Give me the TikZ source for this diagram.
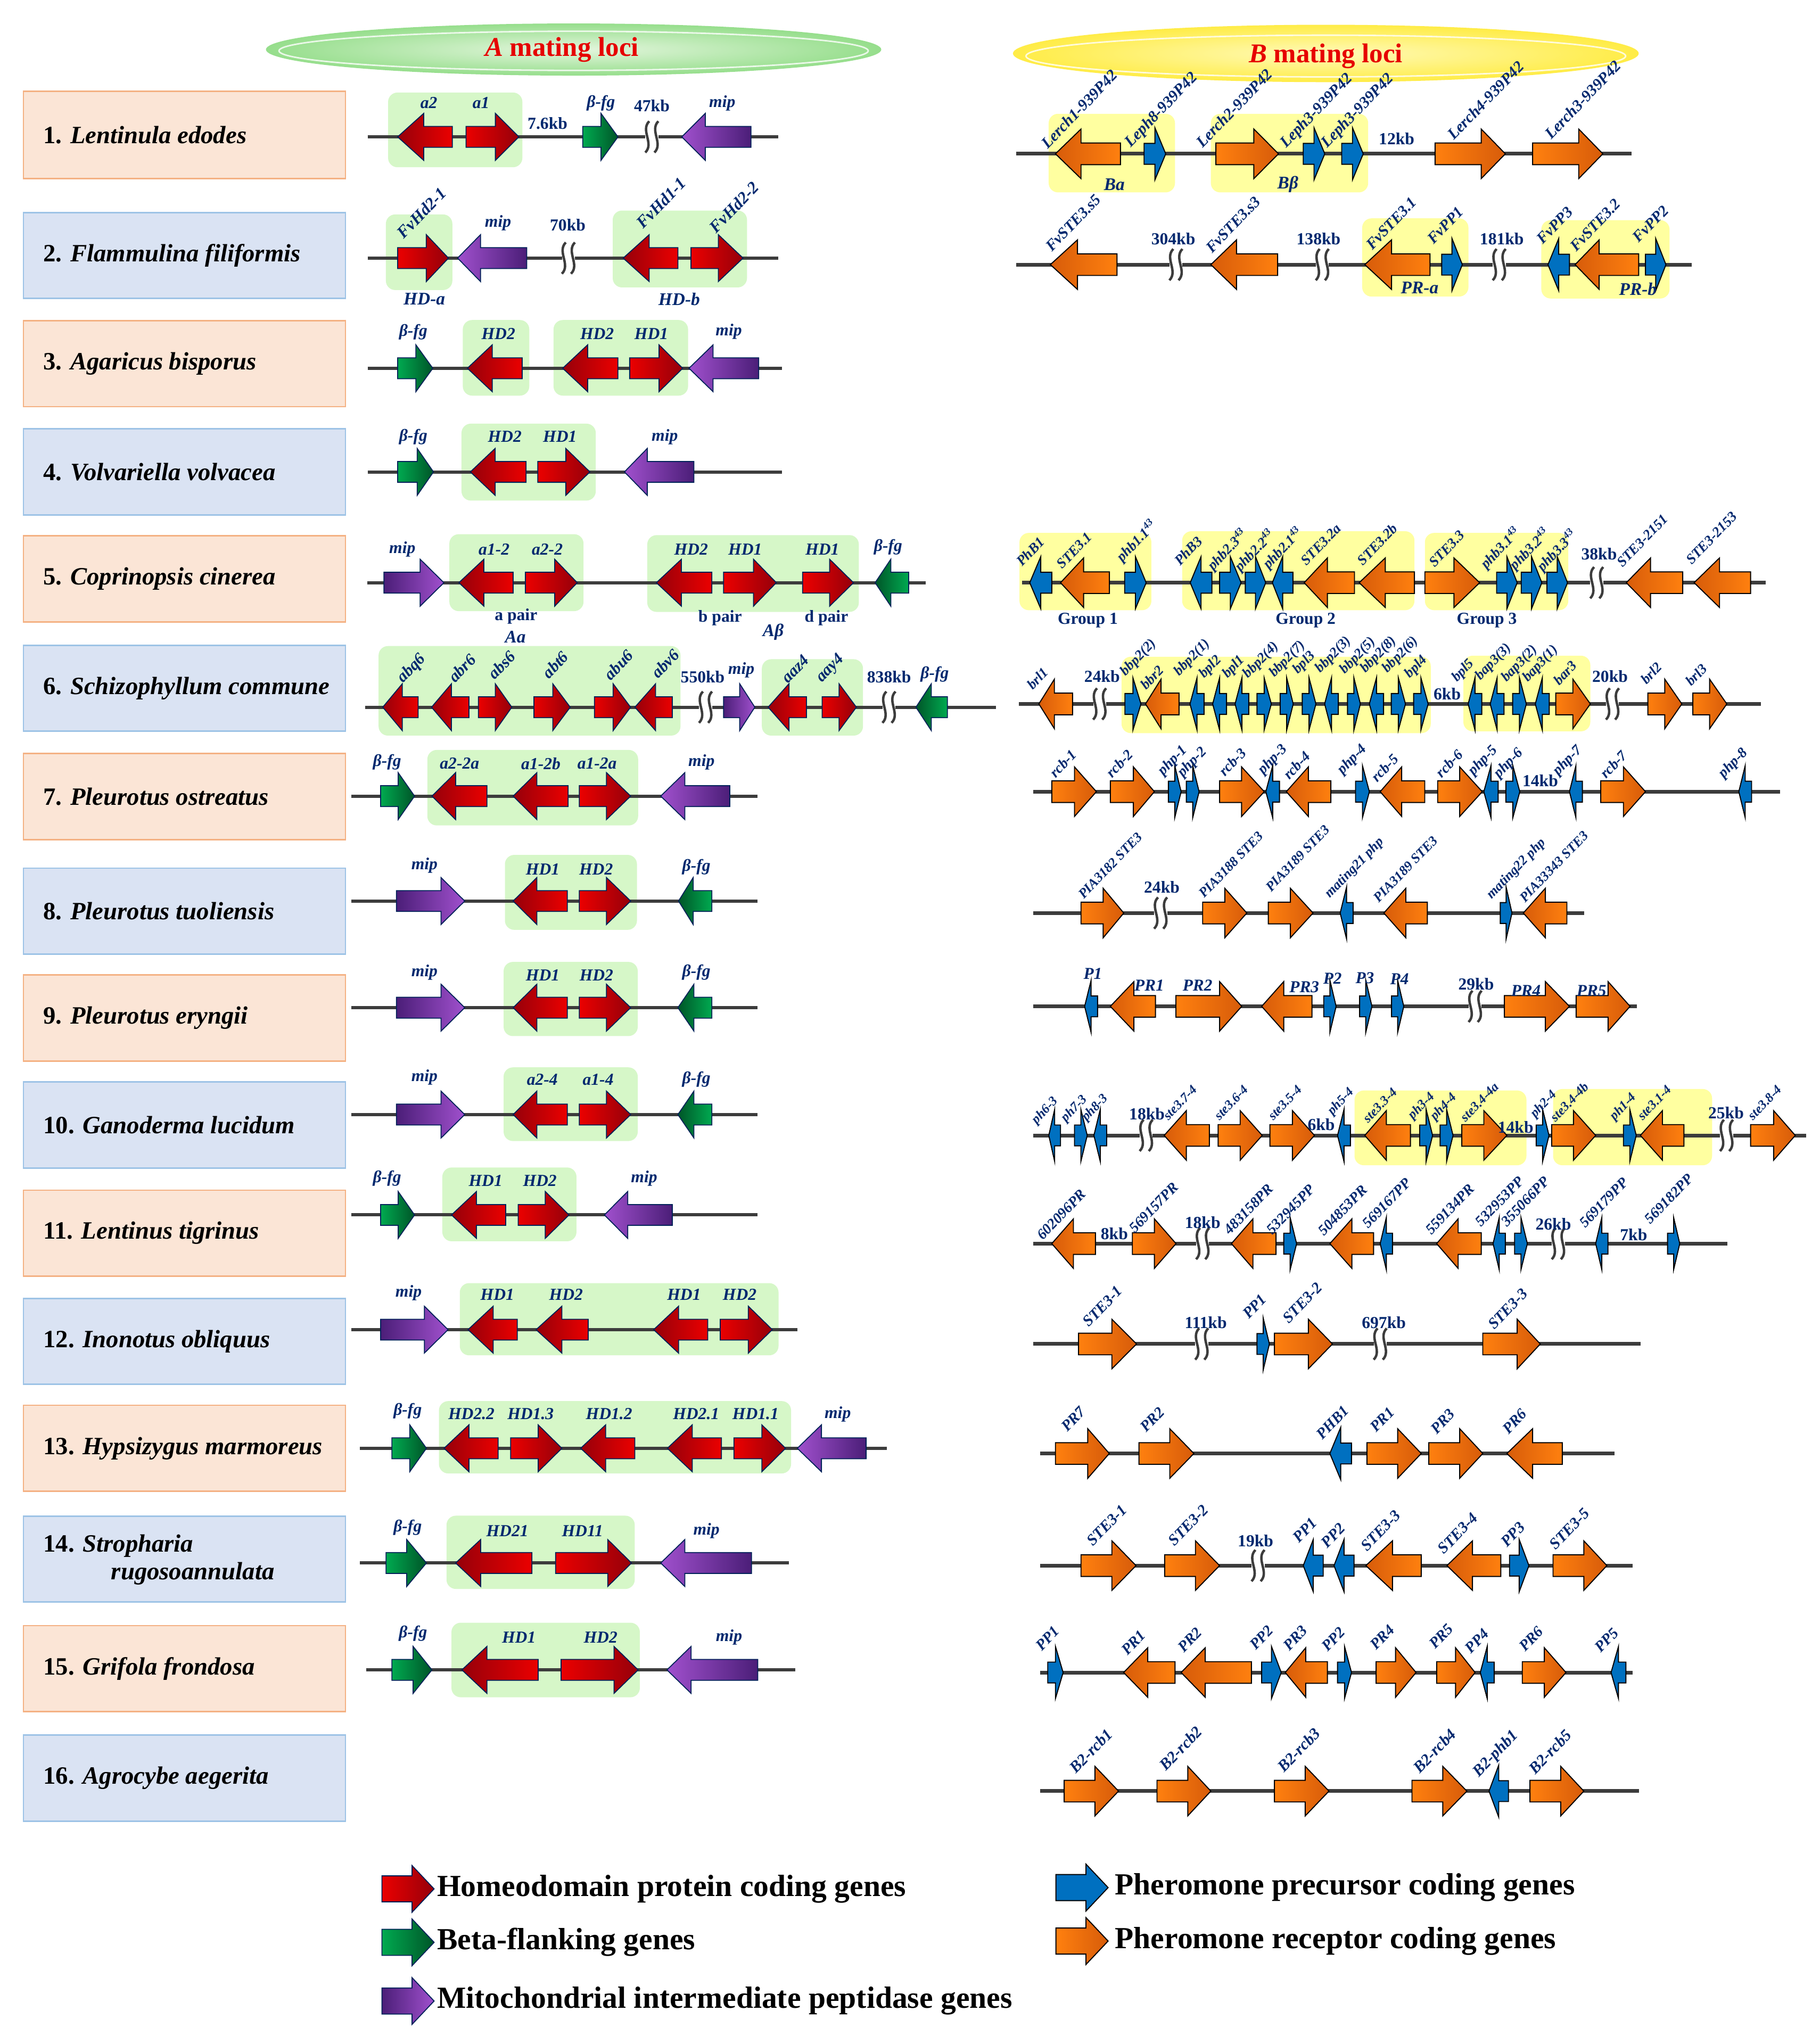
\documentclass[tikz,border=0pt]{standalone}
\usepackage{fontspec}
\setmainfont{Liberation Serif}
\definecolor{navy}{RGB}{0,40,110}
\definecolor{redT}{RGB}{235,0,0}
\definecolor{redH}{RGB}{150,0,10}
\definecolor{grnT}{RGB}{0,170,80}
\definecolor{grnH}{RGB}{0,85,40}
\definecolor{purH}{RGB}{160,80,205}
\definecolor{purT}{RGB}{75,30,120}
\definecolor{oraT}{RGB}{255,128,15}
\definecolor{oraH}{RGB}{215,92,10}
\definecolor{bluT}{RGB}{0,112,192}
\definecolor{lgreen}{RGB}{214,247,200}
\definecolor{lyellow}{RGB}{255,255,160}
\definecolor{peach}{RGB}{251,229,214}
\definecolor{peachB}{RGB}{244,177,131}
\definecolor{lblue}{RGB}{218,227,243}
\definecolor{lblueB}{RGB}{157,195,230}
\definecolor{bbline}{RGB}{60,60,60}
\definecolor{hred}{RGB}{230,0,0}
\newcommand\lbf[1]{\fontsize{#1}{#1}\selectfont\bfseries\itshape}
\tikzset{
 ga/.style={draw=navy!80!black,line width=0.5pt,line join=miter},
 gb/.style={draw=black,line width=0.55pt,line join=miter},
 rR/.style={ga,left color=redT,right color=redH},
 rL/.style={ga,left color=redH,right color=redT},
 gR/.style={ga,left color=grnT,right color=grnH},
 gL/.style={ga,left color=grnH,right color=grnT},
 mR/.style={ga,left color=purT,right color=purH},
 mL/.style={ga,left color=purH,right color=purT},
 oR/.style={gb,left color=oraT,right color=oraH},
 oL/.style={gb,left color=oraH,right color=oraT},
 bR/.style={gb,fill=bluT},
 bL/.style={gb,fill=bluT},
 bbA/.style={line width=1.7pt,draw=bbline},
 bbB/.style={line width=2.0pt,draw=bbline},
 hlA/.style={fill=lgreen,rounded corners=5pt},
 hlB/.style={fill=lyellow,rounded corners=5pt},
 lab/.style={text=navy,inner sep=0,font=\lbf{#1}},
 rl/.style={text=navy,inner sep=0,rotate=46,anchor=base west,font=\lbf{#1}},
 kbs/.style={text=navy,inner sep=0,font=\fontsize{9}{9}\selectfont\bfseries},
 peachb/.style={fill=peach,draw=peachB,line width=0.8pt},
 blueb/.style={fill=lblue,draw=lblueB,line width=0.8pt},
 spn/.style={inner sep=0,anchor=west,font=\fontsize{13.3}{15}\selectfont\bfseries},
 brkline/.style={draw=bbline,line width=1.3pt},
 legt/.style={inner sep=0,anchor=west,font=\fontsize{16.4}{17}\selectfont\bfseries}
}
% tail, base, tip, y, style, head half, body half
\newcommand\gene[7]{\draw[#5] (#1,#4-#7) -- (#2,#4-#7) -- (#2,#4-#6) -- (#3,#4) -- (#2,#4+#6) -- (#2,#4+#7) -- (#1,#4+#7) -- cycle;}
\newcommand\gA[5]{\gene{#1}{#2}{#3}{#4}{#5}{18}{8}}
\newcommand\gB[5]{\gene{#1}{#2}{#3}{#4}{#5}{19}{8.3}}
\newcommand\gP[4]{\pgfmathsetmacro\xbase{(#1+#2)/2}\gene{#1}{\xbase}{#2}{#3}{#4}{20}{8}}
\newcommand\brk[2]{\fill[white] (#1-5,#2-2.6) rectangle (#1+5,#2+2.6);
 \draw[brkline] (#1-2,#2-12) .. controls (#1-9,#2-5) and (#1+2,#2+5) .. (#1-5,#2+12);
 \draw[brkline] (#1+5,#2-12) .. controls (#1-2,#2-5) and (#1+9,#2+5) .. (#1+2,#2+12);}
\newcommand\alab[3]{\node[lab=9] at (#1,#2) {#3};}
\newcommand\kblab[3]{\node[kbs] at (#1,#2) {#3};}
\newcommand\rla[4]{\node[rl=#1] at (#2,#3) {#4};}
\newcommand\spbox[4]{\draw[#1] (18,#2) rectangle (265,#3); \node[spn] at (33,{(#2+#3)/2}) {#4};}
\begin{document}
\begin{tikzpicture}[x=0.024484cm,y=-0.024484cm]
\useasboundingbox (0,0) rectangle (1396,1568);
\fill[white] (0,0) rectangle (1396,1568);
% headers
\shade[inner color={rgb,255:red,228;green,246;blue,222},outer color={rgb,255:red,150;green,222;blue,140}] (440,38) ellipse [x radius=236, y radius=20];
\draw[white,line width=0.8pt,opacity=0.8] (440,39) ellipse [x radius=226, y radius=15];
\node[text=hred,inner sep=0,font=\fontsize{14.5}{15}\selectfont\bfseries] at (431,38) {\textit{A} mating loci};
\shade[inner color={rgb,255:red,255;green,250;blue,185},outer color={rgb,255:red,255;green,236;blue,70}] (1017,41) ellipse [x radius=240, y radius=22];
\draw[white,line width=0.8pt,opacity=0.8] (1017,43) ellipse [x radius=230, y radius=16];
\node[text=hred,inner sep=0,font=\fontsize{14.5}{15}\selectfont\bfseries] at (1017,43) {\textit{B} mating loci};
% species boxes
\spbox{peachb}{70}{137}{1. \textit{Lentinula edodes}}
\spbox{blueb}{163}{229}{2. \textit{Flammulina filiformis}}
\spbox{peachb}{246}{312}{3. \textit{Agaricus bisporus}}
\spbox{blueb}{329}{395}{4. \textit{Volvariella volvacea}}
\spbox{peachb}{411}{477}{5. \textit{Coprinopsis cinerea}}
\spbox{blueb}{495}{561}{6. \textit{Schizophyllum commune}}
\spbox{peachb}{578}{644}{7. \textit{Pleurotus ostreatus}}
\spbox{blueb}{666}{732}{8. \textit{Pleurotus tuoliensis}}
\spbox{peachb}{748}{814}{9. \textit{Pleurotus eryngii}}
\spbox{blueb}{830}{896}{10. \textit{Ganoderma lucidum}}
\spbox{peachb}{913}{979}{11. \textit{Lentinus tigrinus}}
\spbox{blueb}{996}{1062}{12. \textit{Inonotus obliquus}}
\spbox{peachb}{1078}{1144}{13. \textit{Hypsizygus marmoreus}}
\draw[blueb] (18,1163) rectangle (265,1229);
\node[spn] at (33,1186) {14. \textit{Stropharia}};
\node[spn] at (85,1207) {\textit{rugosoannulata}};
\spbox{peachb}{1247}{1313}{15. \textit{Grifola frondosa}}
\spbox{blueb}{1331}{1397}{16. \textit{Agrocybe aegerita}}

% ================= A side =================
% Row 1
\fill[hlA] (297.7,71) rectangle (400.7,128.3);
\draw[bbA] (282,105) -- (597,105);
\brk{500}{105}
\gA{347}{325}{305}{105}{rL}
\gA{357.5}{380}{398}{105}{rR}
\gA{447}{461}{474}{105}{gR}
\gA{576}{541}{523}{105}{mL}
\alab{329}{79}{a2}\alab{369}{79}{a1}\alab{461}{79}{β-fg}\alab{554}{79}{mip}
\kblab{420}{94.5}{7.6kb}\kblab{500}{81}{47kb}
% Row 2
\fill[hlA] (296,164.5) rectangle (347,222.5);
\fill[hlA] (470,161.5) rectangle (573,220.5);
\draw[bbA] (282,198) -- (597,198);
\brk{436}{198}
\gA{305}{327}{344}{198}{rR}
\gA{404}{368.6}{351}{198}{mL}
\gA{520}{498}{478}{198}{rL}
\gA{530}{551}{570}{198}{rR}
\rla{9}{309.6}{183.9}{FvHd2-1}
\rla{9}{493.3}{176.2}{FvHd1-1}
\rla{9}{549.3}{179.5}{FvHd2-2}
\alab{382}{171}{mip}
\kblab{435.5}{172.5}{70kb}
\node[lab=9.5] at (325.5,229.5) {HD-a};
\node[lab=9.5] at (521,229.5) {HD-b};
% Row 3
\fill[hlA] (355,245.5) rectangle (406,303.5);
\fill[hlA] (424.6,245.5) rectangle (527.8,303.5);
\draw[bbA] (282,282.5) -- (600,282.5);
\gA{305}{319}{332}{282.5}{gR}
\gA{400.6}{377.6}{358.5}{282.5}{rL}
\gA{474}{450.8}{431.6}{282.5}{rL}
\gA{483}{505.5}{523.7}{282.5}{rR}
\gA{582}{547}{528.5}{282.5}{mL}
\alab{317}{254.5}{β-fg}\alab{382.3}{256}{HD2}\alab{458}{256}{HD2}\alab{499.6}{256}{HD1}\alab{559}{254.5}{mip}
% Row 4
\fill[hlA] (354,325) rectangle (457,384);
\draw[bbA] (282,362) -- (600,362);
\gA{305}{320}{332.5}{362}{gR}
\gA{403.5}{379.8}{360.8}{362}{rL}
\gA{412.5}{434}{452.5}{362}{rR}
\gA{532.3}{496.5}{479}{362}{mL}
\alab{317}{335}{β-fg}\alab{387.2}{335}{HD2}\alab{429.5}{335}{HD1}\alab{509.9}{335}{mip}
% Row 5
\fill[hlA] (344.7,409.8) rectangle (447.6,468.8);
\fill[hlA] (496.5,410.5) rectangle (658.8,469.4);
\draw[bbA] (281.7,447) -- (710,447);
\gA{294.5}{322.3}{340.5}{447}{mR}
\gA{393.6}{371.2}{352}{447}{rL}
\gA{403}{425.5}{442.8}{447}{rR}
\gA{546}{522.7}{503.5}{447}{rL}
\gA{555}{578}{595.5}{447}{rR}
\gA{615.7}{636.4}{654.7}{447}{rR}
\gA{697}{683.3}{671.3}{447}{gL}
\alab{308.6}{421.4}{mip}\alab{379}{421.4}{a1-2}\alab{419.8}{421.4}{a2-2}
\alab{530.1}{421.4}{HD2}\alab{571.6}{421.4}{HD1}\alab{630.8}{421.4}{HD1}\alab{681.3}{419.5}{β-fg}
\kblab{395.8}{473}{a pair}\kblab{552.4}{474}{b pair}\kblab{633.9}{474}{d pair}
\node[lab=9.5] at (395.3,488.8) {Aa};
\node[lab=9.5] at (593.1,484.7) {Aβ};
% Row 6
\fill[hlA] (290.4,495.6) rectangle (522,564.3);
\fill[hlA] (584.4,505.7) rectangle (662,564.3);
\draw[bbA] (280,542.5) -- (764,542.5);
\brk{541.2}{542.5}\brk{681.9}{542.5}
\gA{320.7}{308.6}{293.6}{542.5}{rL}
\gA{359.7}{346.3}{331}{542.5}{rL}
\gA{367}{379.9}{392.6}{542.5}{rR}
\gA{409.6}{424}{437.4}{542.5}{rR}
\gA{456}{470.3}{483.7}{542.5}{rR}
\gA{515.7}{502.9}{487}{542.5}{rL}
\gA{555}{567.4}{579}{542.5}{mR}
\gA{618.6}{605.2}{589.2}{542.5}{rL}
\gA{630.7}{643.6}{656.9}{542.5}{rR}
\gA{726.7}{714.4}{702.6}{542.5}{gL}
\foreach \xx/\yy/\tt in {316/513/abq6,354.4/512.5/abr6,384.9/510/abs6,425.9/510/abt6,474.5/510/abu6,510.3/509/abv6,609.9/513/aaz4,637/513/aay4}
  {\node[lab=8.8,rotate=46] at (\xx,\yy) {\tt};}
\alab{568.6}{514.1}{mip}\alab{717}{517.3}{β-fg}
\kblab{539}{519.4}{550kb}\kblab{682}{519.4}{838kb}
% Row 7
\fill[hlA] (327.8,575.3) rectangle (489.5,633.2);
\draw[bbA] (269.6,610.7) -- (581,610.7);
\gA{292}{305.4}{318}{610.7}{gR}
\gA{373.5}{349.5}{331.3}{610.7}{rL}
\gA{435.8}{411.8}{393.6}{610.7}{rL}
\gA{444.4}{465.2}{483.8}{610.7}{rR}
\gA{559.8}{525.3}{506.8}{610.7}{mL}
\alab{296.9}{584.8}{β-fg}\alab{352.5}{585.8}{a2-2a}\alab{414.9}{585.8}{a1-2b}\alab{458}{585.8}{a1-2a}\alab{538.1}{584.8}{mip}
% Row 8
\fill[hlA] (387.3,655.8) rectangle (488.6,713.3);
\draw[bbA] (269.6,691.2) -- (581,691.2);
\gA{304.1}{338.3}{356.5}{691.2}{mR}
\gA{435.2}{411.8}{393.6}{691.2}{rL}
\gA{444.4}{465.2}{483.8}{691.2}{rR}
\gA{546}{531.7}{520.5}{691.2}{gL}
\alab{325.6}{663.8}{mip}\alab{416.3}{667}{HD1}\alab{457.2}{667}{HD2}\alab{534.2}{665}{β-fg}
% Row 9
\fill[hlA] (386.3,737.9) rectangle (489.2,794.8);
\draw[bbA] (269.6,773) -- (581,773);
\gA{304.1}{338.3}{356.5}{773}{mR}
\gA{435.2}{411.8}{393.6}{773}{rL}
\gA{444.4}{465.2}{483.8}{773}{rR}
\gA{546}{532.3}{520}{773}{gL}
\alab{325.6}{746}{mip}\alab{416.3}{748}{HD1}\alab{457.5}{748}{HD2}\alab{534.2}{746}{β-fg}
% Row 10
\fill[hlA] (386.3,818.8) rectangle (489.2,875.3);
\draw[bbA] (269.6,855) -- (581,855);
\gA{304.1}{338.3}{356.5}{855}{mR}
\gA{435.2}{411.8}{393.6}{855}{rL}
\gA{444.4}{465.2}{483.8}{855}{rR}
\gA{546}{532.3}{520}{855}{gL}
\alab{325.6}{826.5}{mip}\alab{416}{828}{a2-4}\alab{458.8}{828}{a1-4}\alab{534.2}{828}{β-fg}
% Row 11
\fill[hlA] (339.3,895.6) rectangle (442.2,952.2);
\draw[bbA] (269.6,932) -- (581,932);
\gA{292}{305.4}{318}{932}{gR}
\gA{387.9}{365.5}{346.3}{932}{rL}
\gA{397.5}{418.2}{436.5}{932}{rR}
\gA{515.7}{481.5}{463.6}{932}{mL}
\alab{296.9}{904.1}{β-fg}\alab{372.5}{905.6}{HD1}\alab{414.1}{905.6}{HD2}\alab{494.1}{904.1}{mip}
% Row 12
\fill[hlA] (352.7,984.3) rectangle (597.2,1039.7);
\draw[bbA] (269.6,1020) -- (611.5,1020);
\gA{292}{325.5}{343.7}{1020}{mR}
\gA{396.8}{378.3}{359}{1020}{rL}
\gA{451.2}{431}{411.2}{1020}{rL}
\gA{542.9}{520.5}{501.4}{1020}{rL}
\gA{552.5}{574}{592.4}{1020}{rR}
\alab{313.4}{991.7}{mip}\alab{381.5}{993}{HD1}\alab{434.2}{993}{HD2}\alab{524.7}{993}{HD1}\alab{567.4}{993}{HD2}
% Row 13
\fill[hlA] (336.7,1074.8) rectangle (606.8,1130.3);
\draw[bbA] (276,1111) -- (680.4,1111);
\gA{300.6}{314.3}{327.1}{1111}{gR}
\gA{382.1}{359.7}{340.6}{1111}{rL}
\gA{391.7}{412.8}{431}{1111}{rR}
\gA{486.9}{464.6}{445.4}{1111}{rL}
\gA{553.4}{531}{511.9}{1111}{rL}
\gA{563}{584.4}{602.6}{1111}{rR}
\gA{664.4}{630.1}{611.6}{1111}{mL}
\alab{312.7}{1082.2}{β-fg}\alab{361.6}{1084.8}{HD2.2}\alab{407}{1084.8}{HD1.3}\alab{467.2}{1084.8}{HD1.2}
\alab{534}{1084.8}{HD2.1}\alab{579.6}{1084.8}{HD1.1}\alab{642.6}{1084.8}{mip}
% Row 14
\fill[hlA] (342.5,1162.7) rectangle (486.9,1218.9);
\draw[bbA] (276,1199) -- (605.2,1199);
\gA{296.1}{312}{327.1}{1199}{gR}
\gA{408}{368.7}{349.5}{1199}{rL}
\gA{426.2}{466.2}{484.4}{1199}{rR}
\gA{576.5}{525.3}{506.8}{1199}{mL}
\alab{312.7}{1171.8}{β-fg}\alab{389.2}{1174.4}{HD21}\alab{446.8}{1174.4}{HD11}\alab{541.9}{1174.4}{mip}
% Row 15
\fill[hlA] (346.3,1244.8) rectangle (490.8,1302);
\draw[bbA] (280.8,1281) -- (610,1281);
\gA{300.6}{316.9}{331.3}{1281}{gR}
\gA{412.8}{373.5}{354.3}{1281}{rL}
\gA{430.4}{471}{489.5}{1281}{rR}
\gA{581.3}{530.1}{511.6}{1281}{mL}
\alab{316.8}{1253}{β-fg}\alab{398}{1256}{HD1}\alab{460.7}{1256}{HD2}\alab{559.2}{1256}{mip}

% ================= B side =================
% Row 1
\fill[hlB] (804.4,87.3) rectangle (901.3,147.6);
\fill[hlB] (928.8,87.3) rectangle (1049.5,147.6);
\draw[bbB] (779.3,118) -- (1251.4,118);
\gB{859.5}{829.2}{809.6}{118}{oL}
\gP{877.6}{894.2}{118}{bR}
\gB{932.7}{961.8}{980.7}{118}{oR}
\gP{999.7}{1016.2}{118}{bR}
\gP{1029.2}{1045.7}{118}{bR}
\gB{1100.8}{1136.2}{1154.7}{118}{oR}
\gB{1175.6}{1211}{1229.5}{118}{oR}
\rla{8.5}{803.7}{114.7}{Lerch1-939P42}
\rla{8.5}{867.4}{113.4}{Leph8-939P42}
\rla{8.5}{922.5}{114}{Lerch2-939P42}
\rla{8.5}{986.6}{114}{Leph3-939P42}
\rla{8.5}{1018}{114}{Leph3-939P42}
\rla{8.5}{1115.3}{108}{Lerch4-939P42}
\rla{8.5}{1189.9}{107.5}{Lerch3-939P42}
\kblab{1071.3}{106.5}{12kb}
\node[lab=9.5] at (854.8,141.5) {Ba};
\node[lab=9.5] at (987.9,141.5) {Bβ};
% Row 2
\fill[hlB] (1044.9,167.5) rectangle (1126.4,227.5);
\fill[hlB] (1182.3,168.9) rectangle (1280.7,229);
\draw[bbB] (779.3,203) -- (1297.6,203);
\brk{902}{203}\brk{1014.3}{203}\brk{1150}{203}
\gB{856.8}{826.5}{805.7}{203}{oL}
\gB{980}{948.5}{928.8}{203}{oL}
\gB{1096.9}{1067.4}{1046.9}{203}{oL}
\gP{1105.9}{1121.7}{203}{bR}
\gP{1203.9}{1187.4}{203}{bL}
\gB{1257}{1226.7}{1208.2}{203}{oL}
\gP{1262.2}{1277.9}{203}{bR}
\rla{8.3}{806.8}{193.5}{FvSTE3.s5}
\rla{8.3}{929.6}{194.9}{FvSTE3.s3}
\rla{8.3}{1052.5}{192.2}{FvSTE3.1}
\rla{8.3}{1099.6}{188}{FvPP1}
\rla{8.3}{1183.5}{188}{FvPP3}
\rla{8.3}{1208.9}{193.5}{FvSTE3.2}
\rla{8.3}{1257}{186.8}{FvPP2}
\kblab{900}{183.3}{304kb}\kblab{1011.4}{183.3}{138kb}\kblab{1152}{183.3}{181kb}
\node[lab=9.5] at (1089,220.7) {PR-a};
\node[lab=9.5] at (1256.4,221.7) {PR-b};
% Row 5
\fill[hlB] (782,408.8) rectangle (883.2,468.1);
\fill[hlB] (906.8,407.5) rectangle (1085,468.1);
\fill[hlB] (1093,408.8) rectangle (1203,468.1);
\draw[bbB] (784,447) -- (1354.5,447);
\brk{1224.8}{447}
\gP{806.8}{789.9}{447}{bL}
\gB{851}{831.2}{813.5}{447}{oL}
\gP{862.7}{879.2}{447}{bR}
\gP{929.6}{913}{447}{bL}
\gP{935.5}{952}{447}{bR}
\gP{955.2}{970.9}{447}{bR}
\gP{991.8}{976}{447}{bL}
\gB{1039}{1018.2}{1000.4}{447}{oL}
\gB{1085}{1062.6}{1042.6}{447}{oL}
\gB{1093}{1115.3}{1135}{447}{oR}
\gP{1148}{1163.8}{447}{bR}
\gP{1166.9}{1182.7}{447}{bR}
\gP{1186.6}{1202.4}{447}{bR}
\gB{1290.8}{1266.1}{1247.5}{447}{oL}
\gB{1342.8}{1319}{1299.5}{447}{oL}
\rla{7.6}{784}{435}{PhB1}
\rla{7.6}{814.7}{437}{STE3.1}
\rla{7.6}{860.8}{431.6}{phb1.1\textsuperscript{43}}
\rla{7.6}{905.2}{434.4}{PhB3}
\rla{7.6}{930.4}{438.2}{phb2.3\textsuperscript{43}}
\rla{7.6}{951.3}{438.9}{phb2.2\textsuperscript{43}}
\rla{7.6}{972.9}{437}{phb2.1\textsuperscript{43}}
\rla{7.6}{1002.1}{434.4}{STE3.2a}
\rla{7.6}{1045.4}{434.4}{STE3.2b}
\rla{7.6}{1100.5}{435.7}{STE3.3}
\rla{7.6}{1139.9}{437}{phb3.1\textsuperscript{43}}
\rla{7.6}{1162.3}{437.7}{phb3.2\textsuperscript{43}}
\rla{7.6}{1183.2}{438.9}{phb3.3\textsuperscript{43}}
\rla{7.6}{1244.4}{435.7}{STE3-2151}
\rla{7.6}{1297.5}{433.7}{STE3-2153}
\kblab{1226.6}{424.8}{38kb}
\kblab{834.4}{475.9}{Group 1}\kblab{1001.5}{475.9}{Group 2}\kblab{1140.5}{475.9}{Group 3}
% Row 6
\fill[hlB] (860.3,503.8) rectangle (1097.5,562.4);
\fill[hlB] (1122.5,503) rectangle (1219.9,561);
\draw[bbB] (781.7,540) -- (1350.9,540);
\brk{843.5}{540}\brk{1236.9}{540}
\gB{822.7}{808.8}{796.9}{540}{oL}
\gP{862.9}{875.2}{540}{bR}
\gB{904.4}{890.6}{878.7}{540}{oL}
\gP{923.6}{912.8}{540}{bL}
\gP{940.8}{930.2}{540}{bL}
\gP{957.9}{947.4}{540}{bL}
\gP{964.2}{975.2}{540}{bR}
\gP{982}{992}{540}{bR}
\gP{998.9}{1009.4}{540}{bR}
\gP{1026.6}{1016.1}{540}{bL}
\gP{1033.6}{1043.5}{540}{bR}
\gP{1061.3}{1050.4}{540}{bL}
\gP{1067.2}{1078.1}{540}{bR}
\gP{1084.4}{1095.5}{540}{bR}
\gP{1136.6}{1126.2}{540}{bL}
\gP{1153.7}{1143.1}{540}{bL}
\gP{1160.3}{1170.8}{540}{bR}
\gP{1188.4}{1177.7}{540}{bL}
\gB{1193.4}{1206.5}{1219.9}{540}{oR}
\gB{1264}{1277}{1290.1}{540}{oR}
\gB{1298.5}{1311.4}{1324.6}{540}{oR}
\foreach \xx/\yy/\tt in {792/529.7/brl1,863.3/518.8/bbp2(2),879.1/529.7/bbr2,904.5/518.8/bbp2(1),923.7/520.8/bpl2,941.5/520.8/bpl1,957.3/520.8/bbp2(4),977.5/520/bbp2(7),995.6/517.4/bpl3,1012.8/516.7/bbp2(3),1031.6/517.4/bbp2(5),1047.4/516.7/bbp2(8),1064.2/516.7/bbp2(6),1081.4/520.8/bpl4,1117.5/523.5/bpl5,1135.6/522.2/bap3(3),1155.6/523.5/bap3(2),1171.7/523.5/bap3(1),1195.8/526.2/bar3,1262.9/525.6/brl2,1297.4/526.9/brl3}
  {\node[rl=7.5] at (\xx,\yy) {\tt};}
\kblab{845.4}{518.8}{24kb}\kblab{1110.1}{532.4}{6kb}\kblab{1235}{518.8}{20kb}
% Row 7
\draw[bbB] (792.7,607.3) -- (1365.3,607.3);
\gB{806.8}{824.2}{841}{607.3}{oR}
\gB{851.7}{869.4}{885.5}{607.3}{oR}
\gP{896.2}{906}{607.3}{bR}
\gP{910}{919.8}{607.3}{bR}
\gB{935.5}{952.4}{969.8}{607.3}{oR}
\gP{981.5}{971}{607.3}{bL}
\gB{1020.9}{1003.6}{986.7}{607.3}{oL}
\gP{1039.8}{1050.4}{607.3}{bR}
\gB{1092.9}{1075.2}{1058.7}{607.3}{oL}
\gB{1102.8}{1119.7}{1137}{607.3}{oR}
\gP{1149.2}{1138.2}{607.3}{bL}
\gP{1155.1}{1165.8}{607.3}{bR}
\gP{1213.8}{1203.9}{607.3}{bL}
\gB{1227.9}{1245.3}{1262.2}{607.3}{oR}
\gP{1343.6}{1333.8}{607.3}{bL}
\foreach \xx/\yy/\tt in {809.6/597.3/rcb-1,852.9/597.3/rcb-2,892.3/595.3/php-1,907.2/596.6/php-2,939.5/596/rcb-3,969/594.6/php-3,988.8/598.7/rcb-4,1029.9/594.6/php-4,1056.3/600.7/rcb-5,1105.8/597.3/rcb-6,1130.3/595.3/php-5,1150/597.3/php-6,1195.2/595.3/php-7,1231.8/598/rcb-7,1322.3/597.3/php-8}
  {\node[rl=7.8] at (\xx,\yy) {\tt};}
\kblab{1181.5}{598.7}{14kb}
% Row 8
\draw[bbB] (792.7,700.4) -- (1215,700.4);
\brk{890.3}{700.4}
\gB{829.2}{846.2}{862}{700.4}{oR}
\gB{922.5}{939.5}{956.4}{700.4}{oR}
\gB{972.9}{989.8}{1007.2}{700.4}{oR}
\gP{1037.9}{1028}{700.4}{bL}
\gB{1094.9}{1078.4}{1061.5}{700.4}{oL}
\gP{1150.8}{1159.8}{700.4}{bR}
\gB{1201.9}{1185.4}{1168.5}{700.4}{oL}
\rla{7.3}{831.2}{690.1}{PIA3182 STE3}
\rla{7.3}{923.7}{689.4}{PIA3188 STE3}
\rla{7.3}{974.9}{684.6}{PIA3189 STE3}
\rla{7.3}{1020.1}{689.4}{mating21 php}
\rla{7.3}{1057.6}{692.8}{PIA3189 STE3}
\rla{7.3}{1144.1}{690.1}{mating22 php}
\rla{7.3}{1169.7}{692.8}{PIA33343 STE3}
\kblab{891.2}{680.4}{24kb}
% Row 9
\draw[bbB] (792.7,772) -- (1255.5,772);
\brk{1131.5}{772}
\gP{841.9}{832}{772}{bL}
\gB{886.3}{869.8}{851.7}{772}{oL}
\gB{902}{935.5}{952.5}{772}{oR}
\gB{1006.4}{984.7}{967.8}{772}{oL}
\gP{1015.4}{1024.9}{772}{bR}
\gP{1042.9}{1052.4}{772}{bR}
\gP{1067.4}{1076.8}{772}{bR}
\gB{1154}{1185.4}{1203.9}{772}{oR}
\gB{1209}{1233.5}{1250.4}{772}{oR}
\foreach \xx/\yy/\tt in {838.3/746.9/P1,881.6/755.8/PR1,918.6/755.8/PR2,1000.5/757.2/PR3,1022.1/750.4/P2,1046.9/750.4/P3,1073.5/751/P4,1170.5/759.9/PR4,1220.8/759.9/PR5}
  {\node[lab=8.9] at (\xx,\yy) {\tt};}
\kblab{1132.3}{755}{29kb}
% Row 10
\fill[hlB] (1039,836.5) rectangle (1170.9,893.9);
\fill[hlB] (1191.3,835.4) rectangle (1313.3,893.9);
\draw[bbB] (792.7,871) -- (1385.3,871);
\brk{879.2}{871}\brk{1324.4}{871}
\gP{813.5}{804.5}{871}{bL}
\gP{824.2}{834}{871}{bR}
\gP{848.9}{839.1}{871}{bL}
\gB{927.7}{910}{893}{871}{oL}
\gB{934.4}{951.3}{968.2}{871}{oR}
\gB{974.1}{991.4}{1008.3}{871}{oR}
\gP{1035.9}{1026}{871}{bL}
\gB{1081.9}{1063.4}{1046.9}{871}{oL}
\gP{1089}{1098.9}{871}{bR}
\gP{1104.7}{1114.6}{871}{bR}
\gB{1121.3}{1138.2}{1155.9}{871}{oR}
\gP{1178.4}{1188.2}{871}{bR}
\gB{1190.2}{1207}{1224}{871}{oR}
\gP{1245.3}{1255.1}{871}{bR}
\gB{1291.7}{1275.2}{1258.3}{871}{oL}
\gB{1342.8}{1360.5}{1377.1}{871}{oR}
\foreach \xx/\yy/\tt in {795.1/862.6/ph6-3,817.5/861.2/ph7-3,833.2/860.5/ph8-3,896.2/859.9/ste3.7-4,935.5/859.9/ste3.6-4,976.7/859.9/ste3.5-4,1022/855.8/ph5-4,1049.6/861.9/ste3.3-4,1083.8/859.2/ph3-4,1100.7/859.9/ph4-4,1124.3/861.2/ste3.4-4a,1177.5/857.8/ph2-4,1193.3/861.2/ste3.4-4b,1238.5/859.9/ph1-4,1260.1/859.9/ste3.1-4,1344.8/859.9/ste3.8-4}
  {\node[rl=7] at (\xx,\yy) {\tt};}
\kblab{879.8}{854.4}{18kb}\kblab{1013.5}{862.6}{6kb}\kblab{1162.6}{864.7}{14kb}\kblab{1324}{853.8}{25kb}
% Row 11
\draw[bbB] (792.7,954) -- (1325.1,954);
\brk{922.5}{954}\brk{1195.3}{954}
\gB{840.3}{823.4}{806.8}{954}{oL}
\gB{868.6}{885.5}{902.1}{954}{oR}
\gB{978.8}{961.1}{944.6}{954}{oL}
\gP{984.7}{994.6}{954}{bR}
\gB{1053.6}{1037}{1020.1}{954}{oL}
\gP{1068.1}{1058.7}{954}{bL}
\gB{1136.2}{1118.5}{1102}{954}{oL}
\gP{1154.7}{1145.3}{954}{bL}
\gP{1161.8}{1171.6}{954}{bR}
\gP{1233.4}{1224}{954}{bL}
\gP{1279.1}{1288.5}{954}{bR}
\foreach \xx/\yy/\tt in {799.8/951.8/602096PR,870.6/946.4/569157PR,943.4/947.7/483158PR,975.8/947.7/532945PP,1015.5/948.4/504853PR,1049.6/943/569167PP,1097.8/947.7/559134PR,1136/941.6/532953PP,1155.8/941.6/355066PP,1216/942.3/569179PP,1266/939.6/569182PP}
  {\node[rl=7.9] at (\xx,\yy) {\tt};}
\kblab{854.8}{946.4}{8kb}\kblab{922.5}{937.9}{18kb}\kblab{1191.5}{938.9}{26kb}\kblab{1253.1}{947}{7kb}
% Row 12
\draw[bbB] (792.7,1031) -- (1258.3,1031);
\brk{921.8}{1031}\brk{1058.7}{1031}
\gB{827.3}{852.9}{871.8}{1031}{oR}
\gP{964.2}{973.7}{1031}{bR}
\gB{977.6}{1003.6}{1022.1}{1031}{oR}
\gB{1137.4}{1163.8}{1181.5}{1031}{oR}
\rla{8.3}{835.2}{1018.5}{STE3-1}
\rla{8.3}{957.8}{1012.4}{PP1}
\rla{8.3}{988.6}{1015.8}{STE3-2}
\rla{8.3}{1146.1}{1020.6}{STE3-3}
\kblab{924.9}{1014.4}{111kb}\kblab{1061.5}{1014.4}{697kb}
% Row 13
\draw[bbB] (797.8,1115) -- (1238.6,1115);
\gB{809.6}{834.4}{850.9}{1115}{oR}
\gB{873.7}{897.3}{915.8}{1115}{oR}
\gP{1036.7}{1020.1}{1115}{bL}
\gB{1048.5}{1072.1}{1090.2}{1115}{oR}
\gB{1096}{1119.7}{1137.4}{1115}{oR}
\gB{1198.4}{1175.6}{1155.9}{1115}{oL}
\foreach \xx/\yy/\tt in {818.6/1098.9/PR7,879.2/1099.3/PR2,1014.2/1104.8/PHB1,1055.6/1099.3/PR1,1101.9/1100.7/PR3,1157/1100.7/PR6}
  {\node[rl=8.2] at (\xx,\yy) {\tt};}
% Row 14
\draw[bbB] (797.8,1201) -- (1252.3,1201);
\brk{965}{1201}
\gB{829.2}{852.9}{871.4}{1201}{oR}
\gB{893.4}{917}{935.5}{1201}{oR}
\gP{1015}{999.7}{1201}{bL}
\gP{1038.6}{1023.3}{1201}{bL}
\gB{1090.2}{1068.1}{1047.7}{1201}{oL}
\gB{1151.2}{1129.5}{1109.9}{1201}{oL}
\gP{1157.9}{1172.8}{1201}{bR}
\gB{1191.3}{1214.9}{1232.6}{1201}{oR}
\foreach \xx/\yy/\tt in {838.3/1186.7/STE3-1,900.9/1186.7/STE3-2,996.5/1184/PP1,1018.1/1188.1/PP2,1048.5/1190.8/STE3-3,1107.5/1192.9/STE3-4,1155.9/1187.4/PP3,1193.3/1189.5/STE3-5}
  {\node[rl=8.4] at (\xx,\yy) {\tt};}
\kblab{963.1}{1181.9}{19kb}
% Row 15
\draw[bbB] (797.8,1283) -- (1252.3,1283);
\gP{803.7}{815.5}{1283}{bR}
\gB{901.3}{880.4}{861.9}{1283}{oL}
\gB{959.9}{924.5}{906}{1283}{oL}
\gP{967.8}{982.8}{1283}{bR}
\gB{1018.2}{1001.6}{985.9}{1283}{oL}
\gP{1026}{1036.7}{1283}{bR}
\gB{1055.6}{1070.5}{1086.2}{1283}{oR}
\gB{1102}{1116.5}{1131.5}{1283}{oR}
\gP{1146.1}{1135.5}{1283}{bL}
\gB{1167.7}{1184.6}{1201.2}{1283}{oR}
\gP{1247.2}{1235.8}{1283}{bL}
\foreach \xx/\yy/\tt in {798.9/1266.9/PP1,864.7/1270.4/PR1,908/1268.3/PR2,963.2/1266.3/PP2,988.8/1266.9/PR3,1018.3/1267.6/PP2,1055.6/1266.3/PR4,1100.8/1265.6/PR5,1128.4/1269/PP4,1169.7/1267.6/PR6,1227.9/1268.3/PP5}
  {\node[rl=8.2] at (\xx,\yy) {\tt};}
% Row 16
\draw[bbB] (797.8,1374) -- (1257.1,1374);
\gB{816.3}{839.9}{858}{1374}{oR}
\gB{887.5}{911.1}{928.8}{1374}{oR}
\gB{977.6}{1001.2}{1019.4}{1374}{oR}
\gB{1083.1}{1106.7}{1125.2}{1374}{oR}
\gP{1157.1}{1142.2}{1374}{bL}
\gB{1173.6}{1197.2}{1214.9}{1374}{oR}
\foreach \xx/\yy/\tt in {825.3/1361/B2-rcb1,894.2/1359/B2-rcb2,984.7/1360.3/B2-rcb3,1088.9/1361/B2-rcb4,1134.3/1363.7/B2-phb1,1177.5/1361.7/B2-rcb5}
  {\node[rl=8.6] at (\xx,\yy) {\tt};}

% ================= Legend =================
\gene{293}{316}{333}{1449}{rR}{18}{10}
\node[legt] at (335,1449) {Homeodomain protein coding genes};
\gene{293}{316}{333}{1490}{gR}{18}{10}
\node[legt] at (335,1490) {Beta-flanking genes};
\gene{293}{316}{333}{1535}{mR}{18}{10}
\node[legt] at (335,1535) {Mitochondrial intermediate peptidase genes};
\gene{810}{833}{850}{1448}{bR}{18}{10}
\node[legt] at (855,1448) {Pheromone precursor coding genes};
\gene{810}{833}{850}{1489}{oR}{18}{10}
\node[legt] at (855,1489) {Pheromone receptor coding genes};
\end{tikzpicture}
\end{document}
